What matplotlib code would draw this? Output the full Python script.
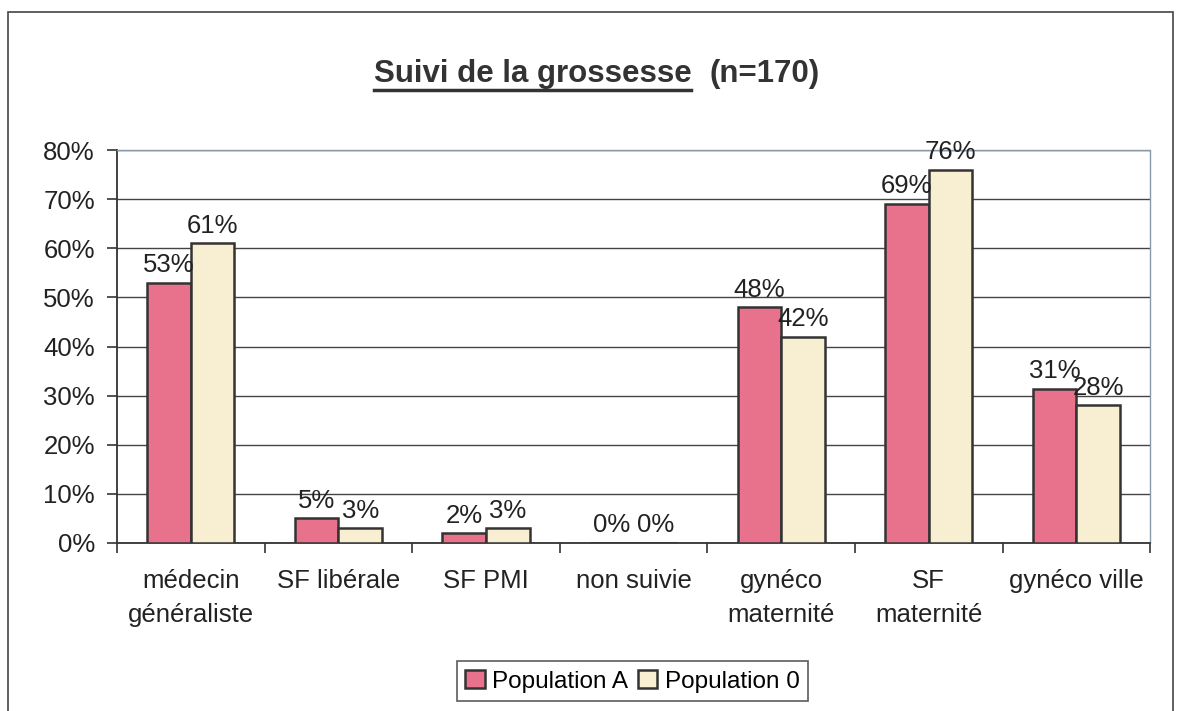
import matplotlib
matplotlib.use("Agg")
import matplotlib.pyplot as plt
import numpy as np
from matplotlib.patches import Rectangle
from matplotlib.lines import Line2D

categories = ["médecin\ngénéraliste", "SF libérale", "SF PMI", "non suivie",
              "gynéco\nmaternité", "SF\nmaternité", "gynéco ville"]
pop_a = [53, 5, 2, 0, 48, 69, 31.4]
pop_0 = [61, 3, 3, 0, 42, 76, 28]
series = ["Population A", "Population 0"]
colors = ["#E8728C", "#F8EED2"]

plt.rcParams["font.family"] = ["Liberation Sans", "DejaVu Sans"]

fig = plt.figure(figsize=(11.82, 7.11), dpi=100)
ax = fig.add_axes([0.099, 0.2363, 0.874, 0.5527])

x = np.arange(len(categories))
w = 0.295
bars_a = ax.bar(x - w / 2, pop_a, w, color=colors[0], edgecolor="#333333", lw=1.8, label=series[0], zorder=3)
bars_0 = ax.bar(x + w / 2, pop_0, w, color=colors[1], edgecolor="#333333", lw=1.8, label=series[1], zorder=3)

for bars, vals in ((bars_a, pop_a), (bars_0, pop_0)):
    for b, v in zip(bars, vals):
        ax.annotate(f"{v:.0f}%", (b.get_x() + b.get_width() / 2, b.get_height()),
                    xytext=(0, 4), textcoords="offset points", ha="center", va="bottom",
                    fontsize=18.5, color="#222222")

ax.set_xlim(-0.5, len(categories) - 0.5)
ax.set_ylim(0, 80)
ax.set_yticks(range(0, 81, 10))
ax.set_yticklabels([f"{t}%" for t in range(0, 81, 10)], fontsize=18.5, color="#222222")
ax.yaxis.grid(True, color="#444444", lw=1.0, zorder=0)
ax.set_axisbelow(True)

# category labels centred, ticks between categories
ax.set_xticks(x)
ax.set_xticklabels(categories, fontsize=18.5, color="#222222", linespacing=1.5)
ax.tick_params(axis="x", length=0, pad=19)
ax.set_xticks(np.arange(-0.5, len(categories), 1), minor=True)
ax.tick_params(axis="x", which="minor", length=7, width=1.2, color="#333333")
ax.tick_params(axis="y", length=7, width=1.2, color="#333333", pad=9)

for side in ("top", "right"):
    ax.spines[side].set_color("#8899aa")
    ax.spines[side].set_linestyle((0, (3, 1)))
    ax.spines[side].set_linewidth(1.0)
for side in ("left", "bottom"):
    ax.spines[side].set_color("#333333")
    ax.spines[side].set_linewidth(1.3)

# legend
leg = fig.legend(loc="center", bbox_to_anchor=(0.535, 0.042), ncol=2, fontsize=17.5,
                 frameon=True, fancybox=False, edgecolor="#333333",
                 handlelength=0.8, handleheight=0.8, handletextpad=0.3,
                 columnspacing=0.4, borderpad=0.35)
leg.get_frame().set_linewidth(1.2)

# outer frame of the chart
fig.patches.append(Rectangle((0.007, -0.05), 0.985, 1.033, transform=fig.transFigure,
                             fill=False, edgecolor="#444444", lw=1.2))

# title with underlined first part
t1 = fig.text(0.585, 0.885, "Suivi de la grossesse", ha="right", va="baseline",
              fontsize=22.5, fontweight="bold", color="#333333")
t2 = fig.text(0.600, 0.885, "(n=170)", ha="left", va="baseline",
              fontsize=22.5, fontweight="bold", color="#333333")
fig.canvas.draw()
bb = t1.get_window_extent().transformed(fig.transFigure.inverted())
fig.add_artist(Line2D([bb.x0, bb.x1], [bb.y0 - 0.002, bb.y0 - 0.002],
                      transform=fig.transFigure, color="#333333", lw=2.5))

fig.savefig("out.png", dpi=100)
